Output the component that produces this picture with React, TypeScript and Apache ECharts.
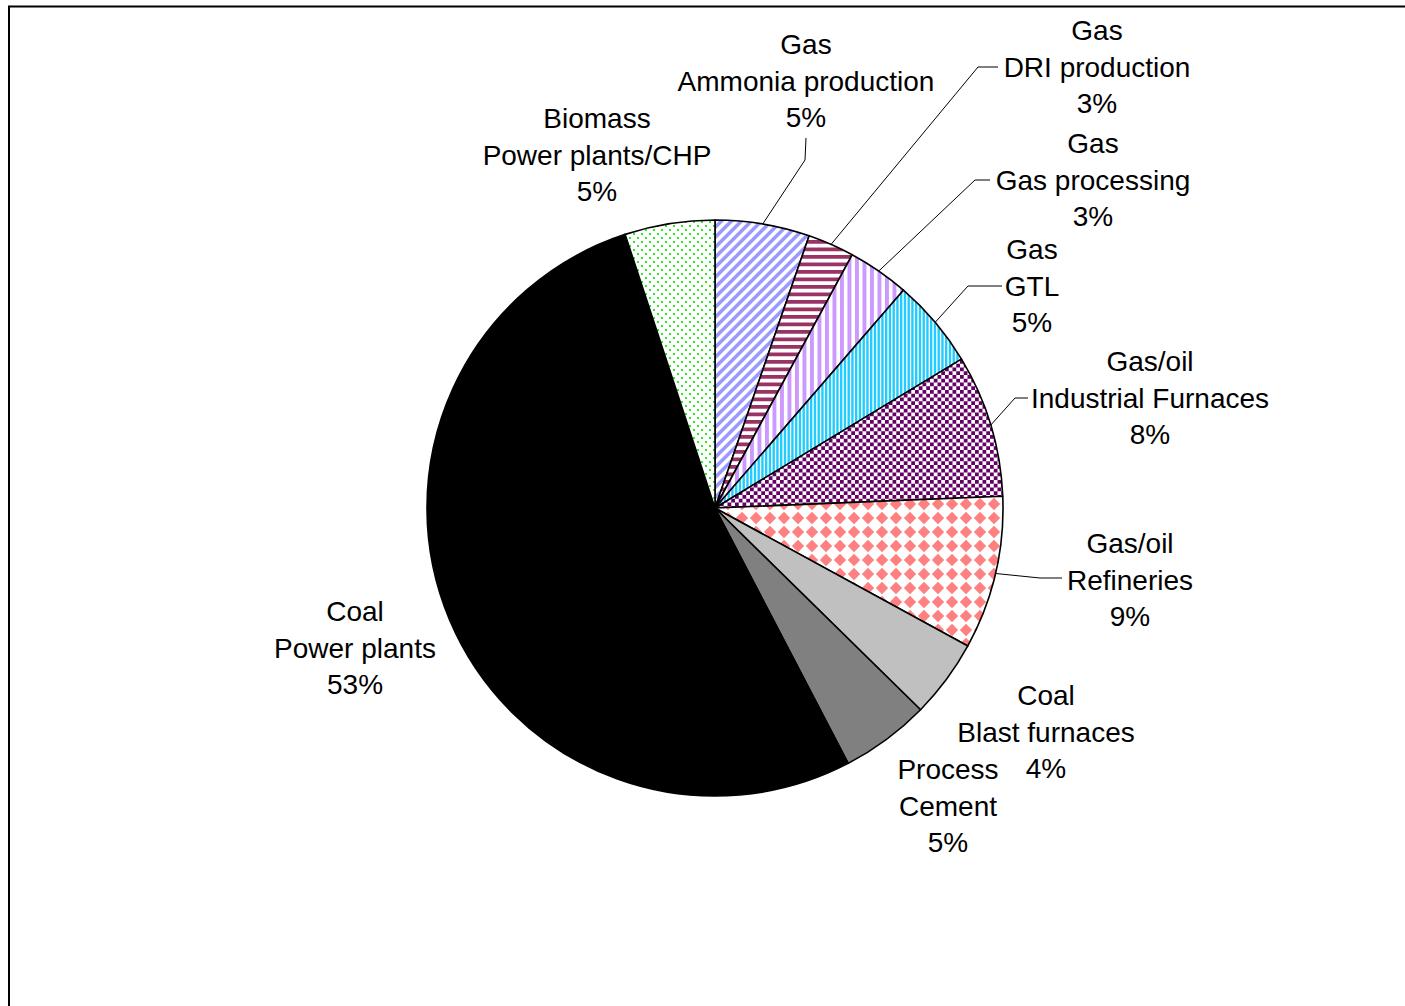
import React, { useEffect, useRef } from 'react';
import * as echarts from 'echarts';

// ---- data ----
const sources = ['Gas', 'Gas', 'Gas', 'Gas', 'Gas/oil', 'Gas/oil', 'Coal', 'Process', 'Coal', 'Biomass'];
const sectors = [
  'Ammonia production',
  'DRI production',
  'Gas processing',
  'GTL',
  'Industrial Furnaces',
  'Refineries',
  'Blast furnaces',
  'Cement',
  'Power plants',
  'Power plants/CHP',
];
const shares = [5.3, 2.6, 3.45, 5.0, 8.0, 8.6, 4.4, 5.0, 52.6, 5.05];

// ---- layout (label centres and leader elbows), kept apart from the data ----
const labelPos: [number, number][] = [
  [806, 81], [1097, 67], [1093, 180], [1032, 286], [1150, 398],
  [1130, 580], [1046, 732], [948, 806], [355, 648], [597, 155],
];
const leaderPts: ([number, number][] | null)[] = [
  [[805, 160], [806, 138]],
  [[978, 67], [998, 67]],
  [[975, 180], [990, 180]],
  [[968, 286], [1002, 286]],
  [[1015, 398], [1028, 398]],
  [[1040, 578], [1062, 578]],
  null, null, null, null,
];

function tile(w: number, h: number, draw: (ctx: CanvasRenderingContext2D) => void) {
  const c = document.createElement('canvas');
  c.width = w;
  c.height = h;
  const ctx = c.getContext('2d') as CanvasRenderingContext2D;
  ctx.fillStyle = '#ffffff';
  ctx.fillRect(0, 0, w, h);
  draw(ctx);
  return c;
}

function makePatterns() {
  const diag = tile(10, 10, (ctx) => {
    for (let y = 0; y < 10; y++) for (let x = 0; x < 10; x++) {
      const k = (x + y) % 10;
      if (k < 4) { ctx.fillStyle = '#9999FF'; ctx.fillRect(x, y, 1, 1); }
      else if (k === 4 || k === 9) { ctx.fillStyle = '#CCCCFF'; ctx.fillRect(x, y, 1, 1); }
    }
  });
  const horiz = tile(4, 15, (ctx) => {
    ctx.fillStyle = '#993366';
    ctx.fillRect(0, 0, 4, 3.75);
    ctx.fillRect(0, 7.5, 4, 3.75);
  });
  const vert = tile(15, 4, (ctx) => {
    ctx.fillStyle = '#CC99FF';
    ctx.fillRect(0, 0, 3.9, 4);
    ctx.fillRect(7.5, 0, 3.9, 4);
  });
  const narrow = tile(15, 4, (ctx) => {
    ctx.fillStyle = '#22CCFF';
    for (let i = 0; i < 4; i++) ctx.fillRect(i * 3.75, 0, 2.4, 4);
  });
  const checker = tile(15, 15, (ctx) => {
    ctx.fillStyle = '#660066';
    for (let j = 0; j < 4; j++) for (let i = 0; i < 4; i++) {
      if ((i + j) % 2 === 0) ctx.fillRect(i * 3.75, j * 3.75, 3.75, 3.75);
    }
  });
  const D = 14;
  const diamond = tile(D, D, (ctx) => {
    ctx.fillStyle = '#FF8080';
    const d = (cx: number, cy: number, h: number) => {
      ctx.beginPath();
      ctx.moveTo(cx, cy - h);
      ctx.lineTo(cx + h, cy);
      ctx.lineTo(cx, cy + h);
      ctx.lineTo(cx - h, cy);
      ctx.closePath();
      ctx.fill();
    };
    const h = 6.2;
    d(0, 0, h); d(D, 0, h); d(0, D, h); d(D, D, h);
  });
  const dots = tile(8, 8, (ctx) => {
    ctx.fillStyle = '#22EE22';
    ctx.fillRect(1, 1, 2, 2);
    ctx.fillRect(5, 5, 2, 2);
  });
  const pat = (c: HTMLCanvasElement) => ({ image: c, repeat: 'repeat' });
  return [
    pat(diag), pat(horiz), pat(vert), pat(narrow), pat(checker), pat(diamond),
    '#C0C0C0', '#808080', '#000000', pat(dots),
  ];
}

export default function App() {
  const ref = useRef<HTMLDivElement>(null);
  useEffect(() => {
    if (!ref.current) return;
    const chart = echarts.init(ref.current, undefined, { renderer: 'svg' });
    const fills = makePatterns();
    const data = shares.map((v, i) => ({
      name: sectors[i],
      value: v,
      itemStyle: { color: fills[i] as any },
      labelLine: { show: leaderPts[i] !== null },
    }));
    chart.setOption({
      animation: false,
      backgroundColor: '#ffffff',
      graphic: [
        {
          type: 'rect',
          shape: { x: 9, y: 6.5, width: 1500, height: 1100 },
          style: { fill: 'none', stroke: '#000', lineWidth: 2 },
          silent: true,
        },
      ],
      series: [
        {
          type: 'pie',
          center: [715, 508],
          radius: [0, 288],
          startAngle: 90,
          clockwise: true,
          avoidLabelOverlap: false,
          itemStyle: { borderColor: '#000', borderWidth: 1.6 },
          label: {
            show: true,
            position: 'outside',
            fontFamily: '"Liberation Sans", Arial, sans-serif',
            fontSize: 28,
            lineHeight: 36.5,
            color: '#000',
            align: 'center',
            formatter: (p: any) => `${sources[p.dataIndex]}\n${p.name}\n${Math.round(p.percent)}%`,
          },
          labelLine: {
            show: true,
            length: 20,
            length2: 20,
            lineStyle: { color: '#000', width: 1 },
          },
          labelLayout: (p: any) => {
            const i = p.dataIndex;
            const pos = labelPos[i];
            const res: any = { x: pos[0], y: pos[1], align: 'center', verticalAlign: 'middle' };
            const e = leaderPts[i];
            if (e && p.labelLinePoints) {
              res.labelLinePoints = [p.labelLinePoints[0], e[0], e[1]];
            }
            return res;
          },
          emphasis: { disabled: true },
          data,
        },
      ],
    });
    return () => chart.dispose();
  }, []);
  return (
    <div
      ref={ref}
      style={{ position: 'fixed', left: 0, top: 0, width: 1405, height: 1006, background: '#fff' }}
    />
  );
}
